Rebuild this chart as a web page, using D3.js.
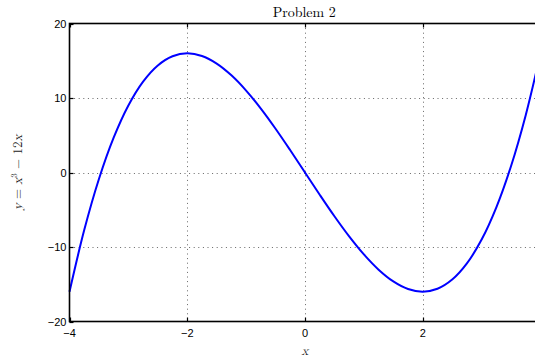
<!DOCTYPE html>
<html>
<head>
<meta charset="utf-8">
<script src="https://cdn.jsdelivr.net/npm/d3@7"></script>
<style>
  html, body { margin: 0; padding: 0; background: #fff; overflow: hidden; }
  .tick-label { font-family: "Liberation Sans", Arial, sans-serif; font-size: 11px; fill: #000; }
  .math { font-family: "Latin Modern Math", "DejaVu Serif", "Liberation Serif", serif; font-style: italic; fill: #222; }
</style>
</head>
<body>
<div id="chart"></div>
<script>
// Sampled points of the curve
const xValues = [-4, -3.75, -3.5, -3.25, -3, -2.75, -2.5, -2.25, -2, -1.75, -1.5, -1.25, -1, -0.75, -0.5, -0.25,
  0, 0.25, 0.5, 0.75, 1, 1.25, 1.5, 1.75, 2, 2.25, 2.5, 2.75, 3, 3.25, 3.5, 3.75, 4];
const yValues = [-16, -7.734, -0.875, 4.672, 9, 12.203, 14.375, 15.609, 16, 15.641, 14.625, 13.047, 11, 8.578, 5.875, 2.984,
  0, -2.984, -5.875, -8.578, -11, -13.047, -14.625, -15.641, -16, -15.609, -14.375, -12.203, -9, -4.672, 0.875, 7.734, 16];
const xTicks = [-4, -2, 0, 2, 4];
const xTickLabels = [-4, -2, 0, 2];
const yTicks = [-20, -10, 0, 10, 20];
const titleText = "Problem 2";

const width = 535;
const height = 360;
const plot = { left: 69.5, top: 23.5, right: 540.5, bottom: 321.5 };

const x = d3.scaleLinear().domain([-4, 4]).range([plot.left, plot.right]);
const y = d3.scaleLinear().domain([-20, 20]).range([plot.bottom, plot.top]);

const svg = d3.select("#chart").append("svg")
  .attr("width", width)
  .attr("height", height);

const fmt = (v) => (v < 0 ? "\u2212" + Math.abs(v) : String(v));

// dotted grid
const grid = svg.append("g")
  .attr("stroke", "#666")
  .attr("stroke-width", 1)
  .attr("stroke-dasharray", "1,3.6");
grid.selectAll("line.gx")
  .data(xTicks.filter((t) => t > -4 && t < 4))
  .join("line")
  .attr("x1", (d) => Math.round(x(d)) + 0.5)
  .attr("x2", (d) => Math.round(x(d)) + 0.5)
  .attr("y1", plot.top)
  .attr("y2", plot.bottom);
grid.selectAll("line.gy")
  .data(yTicks.filter((t) => t > -20 && t < 20))
  .join("line")
  .attr("x1", plot.left)
  .attr("x2", plot.right)
  .attr("y1", (d) => Math.round(y(d)) + 0.5)
  .attr("y2", (d) => Math.round(y(d)) + 0.5);

// curve
const line = d3.line()
  .x((_, i) => x(xValues[i]))
  .y((d) => y(d))
  .curve(d3.curveCatmullRom);
svg.append("path")
  .datum(yValues)
  .attr("fill", "none")
  .attr("stroke", "#0000ff")
  .attr("stroke-width", 2)
  .attr("d", line);

// inward ticks on all four sides
const ticks = svg.append("g").attr("stroke", "#000").attr("stroke-width", 1.2);
xTicks.forEach((t) => {
  const px = Math.round(x(t)) + 0.5;
  ticks.append("line").attr("x1", px).attr("x2", px).attr("y1", plot.bottom).attr("y2", plot.bottom - 4);
  ticks.append("line").attr("x1", px).attr("x2", px).attr("y1", plot.top).attr("y2", plot.top + 4);
});
yTicks.forEach((t) => {
  const py = Math.round(y(t)) + 0.5;
  ticks.append("line").attr("x1", plot.left).attr("x2", plot.left + 4).attr("y1", py).attr("y2", py);
  ticks.append("line").attr("x1", plot.right).attr("x2", plot.right - 4).attr("y1", py).attr("y2", py);
});

// box
svg.append("rect")
  .attr("x", plot.left)
  .attr("y", plot.top)
  .attr("width", plot.right - plot.left)
  .attr("height", plot.bottom - plot.top)
  .attr("fill", "none")
  .attr("stroke", "#000")
  .attr("stroke-width", 1.6);

// tick labels
svg.append("g").selectAll("text")
  .data(xTickLabels)
  .join("text")
  .attr("class", "tick-label")
  .attr("x", (d) => x(d))
  .attr("y", plot.bottom + 15)
  .attr("text-anchor", "middle")
  .text(fmt);
svg.append("g").selectAll("text")
  .data(yTicks)
  .join("text")
  .attr("class", "tick-label")
  .attr("x", plot.left - 3)
  .attr("y", (d) => y(d) + 4)
  .attr("text-anchor", "end")
  .text(fmt);

// title and axis labels
svg.append("text")
  .attr("x", (plot.left + 535) / 2 + 2)
  .attr("y", 17)
  .attr("text-anchor", "middle")
  .style("font-family", "\"Latin Modern Roman\", \"DejaVu Serif\", \"Liberation Serif\", serif")
  .style("font-size", "14px")
  .text(titleText);

svg.append("text")
  .attr("class", "math")
  .attr("x", x(0))
  .attr("y", 355)
  .attr("text-anchor", "middle")
  .style("font-size", "13px")
  .text("x");

const yLabel = svg.append("text")
  .attr("class", "math")
  .attr("transform", `translate(22, ${y(0)}) rotate(-90)`)
  .attr("text-anchor", "middle")
  .style("font-size", "13px");
yLabel.append("tspan").text("y");
yLabel.append("tspan").style("font-style", "normal").text(" = ");
yLabel.append("tspan").text("x");
yLabel.append("tspan").attr("dy", -5).style("font-size", "9px").style("font-style", "normal").text("3");
yLabel.append("tspan").attr("dy", 5).style("font-style", "normal").text(" \u2212 12");
yLabel.append("tspan").text("x");
</script>
</body>
</html>
